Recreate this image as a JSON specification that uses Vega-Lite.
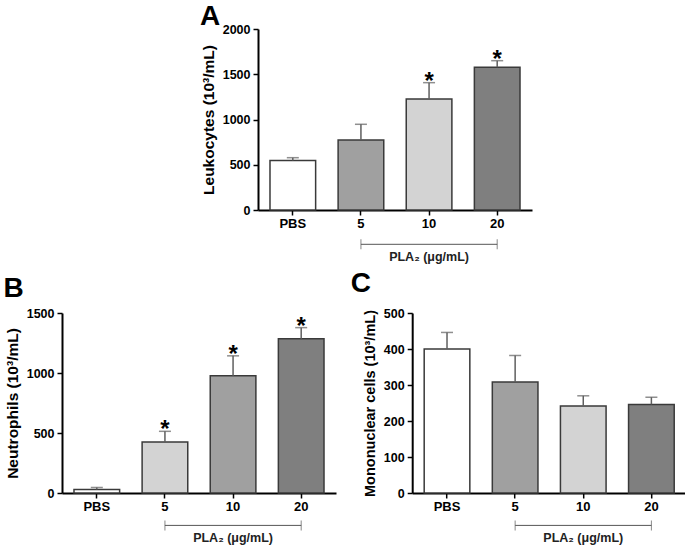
{
  "$schema": "https://vega.github.io/schema/vega-lite/v6.json",
  "padding": {"left": 3, "top": 3, "right": 0, "bottom": 0},
  "background": "white",
  "config": {
    "font": "Liberation Sans",
    "view": {"stroke": null},
    "axis": {
      "domainColor": "black", "domainWidth": 2, "tickColor": "black", "tickWidth": 1.5, "tickSize": 5,
      "labelFont": "Liberation Sans", "labelFontWeight": "bold", "labelFontSize": 12.5, "labelColor": "black",
      "titleFont": "Liberation Sans", "titleFontWeight": "bold", "titleColor": "black", "grid": false, "labelOverlap": false
    },
    "axisX": {"labelFontSize": 13, "labelPadding": 2, "labelAngle": 0, "title": null},
    "axisY": {"labelPadding": 3, "titlePadding": 6, "format": "d", "titleFontSize": 15.5},
    "title": {"fontSize": 28, "fontWeight": "bold", "anchor": "start", "frame": "group", "color": "black", "offset": 0, "font": "Liberation Sans"}
  },
  "datasets": {
    "leukocytes": [
      {"group": "PBS", "mean": 548, "upper": 578, "sig": ""},
      {"group": "5", "mean": 773, "upper": 947, "sig": ""},
      {"group": "10", "mean": 1227, "upper": 1407, "sig": "*"},
      {"group": "20", "mean": 1577, "upper": 1650, "sig": "*"}
    ],
    "neutrophils": [
      {"group": "PBS", "mean": 30, "upper": 46, "sig": ""},
      {"group": "5", "mean": 425, "upper": 514, "sig": "*"},
      {"group": "10", "mean": 978, "upper": 1143, "sig": "*"},
      {"group": "20", "mean": 1285, "upper": 1378, "sig": "*"}
    ],
    "mononuclear": [
      {"group": "PBS", "mean": 400, "upper": 446, "sig": ""},
      {"group": "5", "mean": 308, "upper": 382, "sig": ""},
      {"group": "10", "mean": 242, "upper": 270, "sig": ""},
      {"group": "20", "mean": 246, "upper": 266, "sig": ""}
    ],
    "bracket": [
      {"from": "5", "to": "20", "mid": "10", "label": "PLA₂ (μg/mL)"}
    ]
  },
  "bounds": "full",
  "spacing": 6,
  "resolve": {"scale": {"color": "independent"}},
  "vconcat": [
    {
      "bounds": "flush",
      "spacing": 76,
      "resolve": {"scale": {"color": "independent"}},
      "hconcat": [
        {"width": 120, "height": 10, "data": {"values": []}, "mark": "point"},
        {
          "width": 274, "height": 181,
          "title": {"text": "A", "dx": -58, "dy": 12},
          "data": {"name": "leukocytes"},
          "layer": [
            {"mark": {"type": "bar", "stroke": "#3a3a3a", "strokeWidth": 1.5},
             "encoding": {
               "x": {"field": "group", "type": "nominal", "sort": ["PBS", "5", "10", "20"], "scale": {"domain": ["PBS", "5", "10", "20"], "paddingInner": 0.33, "paddingOuter": 0.176}},
               "y": {"field": "mean", "type": "quantitative", "scale": {"domain": [0, 2000], "nice": false}, "axis": {"title": "Leukocytes (10³/mL)", "values": [0, 500, 1000, 1500, 2000]}},
               "color": {"field": "group", "type": "nominal", "scale": {"domain": ["PBS", "5", "10", "20"], "range": ["#ffffff", "#a0a0a0", "#d3d3d3", "#7f7f7f"]}, "legend": null}
             }},
            {"mark": {"type": "rule", "color": "#5f5f5f", "strokeWidth": 1.5},
             "encoding": {"x": {"field": "group", "type": "nominal"}, "y": {"field": "mean", "type": "quantitative", "axis": {"title": "Leukocytes (10³/mL)", "values": [0, 500, 1000, 1500, 2000]}}, "y2": {"field": "upper"}}},
            {"mark": {"type": "tick", "color": "#5f5f5f", "thickness": 1.5, "size": 12},
             "encoding": {"x": {"field": "group", "type": "nominal"}, "y": {"field": "upper", "type": "quantitative", "axis": {"title": "Leukocytes (10³/mL)", "values": [0, 500, 1000, 1500, 2000]}}}},
            {"transform": [{"filter": "datum.sig != ''"}],
             "mark": {"type": "text", "fontSize": 24, "fontWeight": "bold", "baseline": "alphabetic", "dy": 6, "color": "black"},
             "encoding": {"x": {"field": "group", "type": "nominal"}, "y": {"field": "upper", "type": "quantitative", "axis": {"title": "Leukocytes (10³/mL)", "values": [0, 500, 1000, 1500, 2000]}}, "text": {"field": "sig"}}},
            {"data": {"name": "bracket"}, "mark": {"type": "rule", "color": "#555555", "strokeWidth": 1},
             "encoding": {"x": {"field": "from", "type": "nominal"}, "x2": {"field": "to"}, "y": {"datum": -379, "type": "quantitative", "axis": {"title": "Leukocytes (10³/mL)", "values": [0, 500, 1000, 1500, 2000]}}}},
            {"data": {"name": "bracket"}, "mark": {"type": "tick", "orient": "vertical", "color": "#555555", "thickness": 1, "size": 10},
             "encoding": {"x": {"field": "from", "type": "nominal"}, "y": {"datum": -379, "type": "quantitative", "axis": {"title": "Leukocytes (10³/mL)", "values": [0, 500, 1000, 1500, 2000]}}}},
            {"data": {"name": "bracket"}, "mark": {"type": "tick", "orient": "vertical", "color": "#555555", "thickness": 1, "size": 10},
             "encoding": {"x": {"field": "to", "type": "nominal"}, "y": {"datum": -379, "type": "quantitative", "axis": {"title": "Leukocytes (10³/mL)", "values": [0, 500, 1000, 1500, 2000]}}}},
            {"data": {"name": "bracket"}, "mark": {"type": "text", "fontSize": 12.5, "fontWeight": "bold", "baseline": "middle", "color": "#222222"},
             "encoding": {"x": {"field": "mid", "type": "nominal"}, "y": {"datum": -516, "type": "quantitative", "axis": {"title": "Leukocytes (10³/mL)", "values": [0, 500, 1000, 1500, 2000]}}, "text": {"field": "label"}}}
          ]
        }
      ]
    },
    {
      "bounds": "flush",
      "spacing": 76.2,
      "resolve": {"scale": {"color": "independent"}},
      "hconcat": [
        {
          "width": 274, "height": 180,
          "title": {"text": "B", "dx": -58.5, "dy": 0},
          "data": {"name": "neutrophils"},
          "layer": [
            {"mark": {"type": "bar", "stroke": "#3a3a3a", "strokeWidth": 1.5},
             "encoding": {
               "x": {"field": "group", "type": "nominal", "sort": ["PBS", "5", "10", "20"], "scale": {"domain": ["PBS", "5", "10", "20"], "paddingInner": 0.33, "paddingOuter": 0.176}},
               "y": {"field": "mean", "type": "quantitative", "scale": {"domain": [0, 1500], "nice": false}, "axis": {"title": "Neutrophils (10³/mL)", "values": [0, 500, 1000, 1500]}},
               "color": {"field": "group", "type": "nominal", "scale": {"domain": ["PBS", "5", "10", "20"], "range": ["#ffffff", "#d3d3d3", "#a0a0a0", "#7f7f7f"]}, "legend": null}
             }},
            {"mark": {"type": "rule", "color": "#5f5f5f", "strokeWidth": 1.5},
             "encoding": {"x": {"field": "group", "type": "nominal"}, "y": {"field": "mean", "type": "quantitative", "axis": {"title": "Neutrophils (10³/mL)", "values": [0, 500, 1000, 1500]}}, "y2": {"field": "upper"}}},
            {"mark": {"type": "tick", "color": "#5f5f5f", "thickness": 1.5, "size": 12},
             "encoding": {"x": {"field": "group", "type": "nominal"}, "y": {"field": "upper", "type": "quantitative", "axis": {"title": "Neutrophils (10³/mL)", "values": [0, 500, 1000, 1500]}}}},
            {"transform": [{"filter": "datum.sig != ''"}],
             "mark": {"type": "text", "fontSize": 24, "fontWeight": "bold", "baseline": "alphabetic", "dy": 6, "color": "black"},
             "encoding": {"x": {"field": "group", "type": "nominal"}, "y": {"field": "upper", "type": "quantitative", "axis": {"title": "Neutrophils (10³/mL)", "values": [0, 500, 1000, 1500]}}, "text": {"field": "sig"}}},
            {"data": {"name": "bracket"}, "mark": {"type": "rule", "color": "#555555", "strokeWidth": 1},
             "encoding": {"x": {"field": "from", "type": "nominal"}, "x2": {"field": "to"}, "y": {"datum": -270, "type": "quantitative", "axis": {"title": "Neutrophils (10³/mL)", "values": [0, 500, 1000, 1500]}}}},
            {"data": {"name": "bracket"}, "mark": {"type": "tick", "orient": "vertical", "color": "#555555", "thickness": 1, "size": 10},
             "encoding": {"x": {"field": "from", "type": "nominal"}, "y": {"datum": -270, "type": "quantitative", "axis": {"title": "Neutrophils (10³/mL)", "values": [0, 500, 1000, 1500]}}}},
            {"data": {"name": "bracket"}, "mark": {"type": "tick", "orient": "vertical", "color": "#555555", "thickness": 1, "size": 10},
             "encoding": {"x": {"field": "to", "type": "nominal"}, "y": {"datum": -270, "type": "quantitative", "axis": {"title": "Neutrophils (10³/mL)", "values": [0, 500, 1000, 1500]}}}},
            {"data": {"name": "bracket"}, "mark": {"type": "text", "fontSize": 12.5, "fontWeight": "bold", "baseline": "middle", "color": "#222222"},
             "encoding": {"x": {"field": "mid", "type": "nominal"}, "y": {"datum": -372, "type": "quantitative", "axis": {"title": "Neutrophils (10³/mL)", "values": [0, 500, 1000, 1500]}}, "text": {"field": "label"}}}
          ]
        },
        {
          "width": 274, "height": 180,
          "title": {"text": "C", "dx": -61.5, "dy": -5},
          "data": {"name": "mononuclear"},
          "layer": [
            {"mark": {"type": "bar", "stroke": "#3a3a3a", "strokeWidth": 1.5},
             "encoding": {
               "x": {"field": "group", "type": "nominal", "sort": ["PBS", "5", "10", "20"], "scale": {"domain": ["PBS", "5", "10", "20"], "paddingInner": 0.33, "paddingOuter": 0.176}},
               "y": {"field": "mean", "type": "quantitative", "scale": {"domain": [0, 500], "nice": false}, "axis": {"title": "Mononuclear cells (10³/mL)", "values": [0, 100, 200, 300, 400, 500], "titleFontSize": 14.5}},
               "color": {"field": "group", "type": "nominal", "scale": {"domain": ["PBS", "5", "10", "20"], "range": ["#ffffff", "#a0a0a0", "#d3d3d3", "#7f7f7f"]}, "legend": null}
             }},
            {"mark": {"type": "rule", "color": "#5f5f5f", "strokeWidth": 1.5},
             "encoding": {"x": {"field": "group", "type": "nominal"}, "y": {"field": "mean", "type": "quantitative", "axis": {"title": "Mononuclear cells (10³/mL)", "values": [0, 100, 200, 300, 400, 500], "titleFontSize": 14.5}}, "y2": {"field": "upper"}}},
            {"mark": {"type": "tick", "color": "#5f5f5f", "thickness": 1.5, "size": 12},
             "encoding": {"x": {"field": "group", "type": "nominal"}, "y": {"field": "upper", "type": "quantitative", "axis": {"title": "Mononuclear cells (10³/mL)", "values": [0, 100, 200, 300, 400, 500], "titleFontSize": 14.5}}}},
            {"data": {"name": "bracket"}, "mark": {"type": "rule", "color": "#555555", "strokeWidth": 1},
             "encoding": {"x": {"field": "from", "type": "nominal"}, "x2": {"field": "to"}, "y": {"datum": -90, "type": "quantitative", "axis": {"title": "Mononuclear cells (10³/mL)", "values": [0, 100, 200, 300, 400, 500], "titleFontSize": 14.5}}}},
            {"data": {"name": "bracket"}, "mark": {"type": "tick", "orient": "vertical", "color": "#555555", "thickness": 1, "size": 10},
             "encoding": {"x": {"field": "from", "type": "nominal"}, "y": {"datum": -90, "type": "quantitative", "axis": {"title": "Mononuclear cells (10³/mL)", "values": [0, 100, 200, 300, 400, 500], "titleFontSize": 14.5}}}},
            {"data": {"name": "bracket"}, "mark": {"type": "tick", "orient": "vertical", "color": "#555555", "thickness": 1, "size": 10},
             "encoding": {"x": {"field": "to", "type": "nominal"}, "y": {"datum": -90, "type": "quantitative", "axis": {"title": "Mononuclear cells (10³/mL)", "values": [0, 100, 200, 300, 400, 500], "titleFontSize": 14.5}}}},
            {"data": {"name": "bracket"}, "mark": {"type": "text", "fontSize": 12.5, "fontWeight": "bold", "baseline": "middle", "color": "#222222"},
             "encoding": {"x": {"field": "mid", "type": "nominal"}, "y": {"datum": -124, "type": "quantitative", "axis": {"title": "Mononuclear cells (10³/mL)", "values": [0, 100, 200, 300, 400, 500], "titleFontSize": 14.5}}, "text": {"field": "label"}}}
          ]
        }
      ]
    }
  ]
}
